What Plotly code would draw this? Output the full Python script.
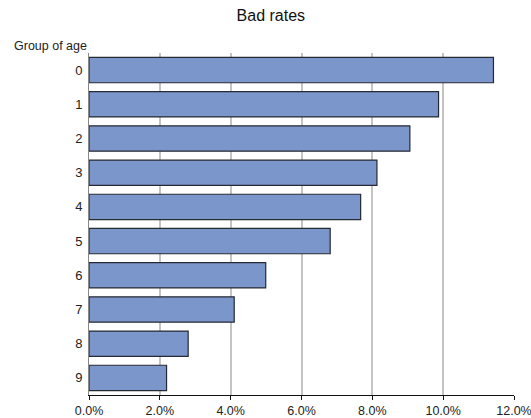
import plotly.graph_objects as go

categories = ["0", "1", "2", "3", "4", "5", "6", "7", "8", "9"]
bad_rates = [0.1142, 0.0987, 0.0906, 0.0813, 0.0767, 0.0681, 0.0499, 0.0410, 0.0280, 0.0219]
x_ticks = [0, 0.02, 0.04, 0.06, 0.08, 0.10, 0.12]
x_tick_labels = ["0.0%", "2.0%", "4.0%", "6.0%", "8.0%", "10.0%", "12.0%"]

fig = go.Figure(go.Bar(
    x=bad_rates,
    y=categories,
    orientation="h",
    marker=dict(color="#7B96CB", line=dict(color="#262a33", width=1.2)),
    hoverinfo="skip",
))

fig.update_layout(
    width=531, height=418,
    margin=dict(l=89, r=17, t=53, b=23, autoexpand=False),
    paper_bgcolor="white", plot_bgcolor="white",
    bargap=0.26,
    showlegend=False,
    font=dict(family="Liberation Sans, Arial, sans-serif", size=12, color="#222"),
    title=dict(text="Bad rates", x=0.51, xanchor="center", y=0.964, yanchor="middle",
               font=dict(size=16, color="#111")),
    annotations=[dict(text="Group of age", xref="paper", yref="paper", x=0, y=1,
                      xanchor="right", yanchor="bottom", xshift=0, yshift=-2,
                      showarrow=False, font=dict(size=12.5, color="#222"))],
)

fig.update_xaxes(
    range=[0, 0.12], tickvals=x_ticks, ticktext=x_tick_labels,
    showgrid=True, gridcolor="#c4c4c4", gridwidth=1.5,
    showline=True, linecolor="#111", linewidth=1,
    ticks="outside", ticklen=4, tickcolor="#111",
    zeroline=False, tickfont=dict(size=12.5, color="#222"),
    automargin=False, ticklabeloverflow="allow",
)
fig.update_yaxes(
    categoryorder="array", categoryarray=categories, autorange="reversed",
    showgrid=False, showline=True, linecolor="#888", linewidth=1,
    ticks="", ticklabelstandoff=3, tickfont=dict(size=13, color="#222"),
    automargin=False,
)

fig.write_html("out.html", config={"displayModeBar": False},
               post_script="document.body.style.margin='0';")
